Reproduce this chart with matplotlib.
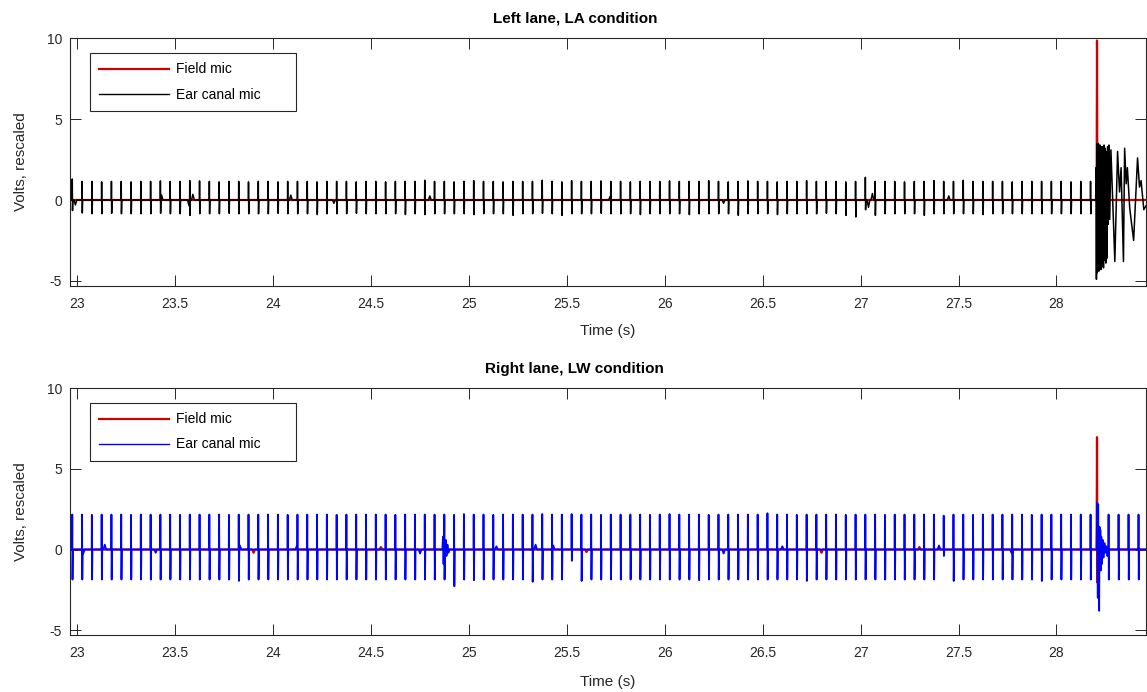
import matplotlib
matplotlib.use("Agg")
import matplotlib.pyplot as plt
import numpy as np

plt.rcParams['font.family'] = ['Liberation Sans', 'DejaVu Sans']
plt.rcParams['axes.unicode_minus'] = False

### data ###
# click times (s), shared by both recordings up to the strike
click_times = [
    22.974, 23.024, 23.074, 23.124, 23.174, 23.224, 23.274, 23.324, 23.374, 23.424,
    23.474, 23.524, 23.574, 23.624, 23.674, 23.724, 23.774, 23.824, 23.874, 23.924,
    23.974, 24.024, 24.074, 24.124, 24.174, 24.224, 24.274, 24.324, 24.374, 24.424,
    24.474, 24.524, 24.574, 24.624, 24.674, 24.724, 24.774, 24.824, 24.874, 24.924,
    24.974, 25.024, 25.074, 25.124, 25.174, 25.224, 25.274, 25.324, 25.374, 25.424,
    25.474, 25.524, 25.574, 25.624, 25.674, 25.724, 25.774, 25.824, 25.874, 25.924,
    25.974, 26.024, 26.074, 26.124, 26.174, 26.224, 26.274, 26.324, 26.374, 26.424,
    26.474, 26.524, 26.574, 26.624, 26.674, 26.724, 26.774, 26.824, 26.874, 26.924,
    26.974, 27.024, 27.074, 27.124, 27.174, 27.224, 27.274, 27.324, 27.374, 27.424,
    27.474, 27.524, 27.574, 27.624, 27.674, 27.724, 27.774, 27.824, 27.874, 27.924,
    27.974, 28.024, 28.074, 28.124, 28.174,
]

# top panel (LA): ear canal click peaks
top_pos = [
    1.30, 1.15, 1.15, 1.12, 1.15, 1.15, 1.12, 1.15, 1.15, 1.18,
    1.15, 1.15, 1.20, 1.18, 1.15, 1.12, 1.15, 1.15, 1.12, 1.15,
    1.15, 1.12, 1.15, 1.15, 1.15, 1.12, 1.15, 1.15, 1.15, 1.12,
    1.15, 1.15, 1.12, 1.15, 1.15, 1.15, 1.22, 1.15, 1.15, 1.12,
    1.15, 1.20, 1.15, 1.15, 1.12, 1.15, 1.15, 1.15, 1.22, 1.15,
    1.12, 1.20, 1.15, 1.15, 1.18, 1.15, 1.15, 1.12, 1.15, 1.15,
    1.15, 1.18, 1.15, 1.15, 1.15, 1.20, 1.15, 1.12, 1.15, 1.18,
    1.15, 1.15, 1.12, 1.15, 1.15, 1.20, 1.15, 1.15, 1.15, 1.12,
    1.15, 1.40, 1.15, 1.15, 1.15, 1.12, 1.15, 1.15, 1.20, 1.15,
    1.15, 1.22, 1.15, 1.15, 1.15, 1.15, 1.12, 1.15, 1.15, 1.15,
    1.15, 1.15, 1.12, 1.15, 1.15,
]
top_neg = [
    -0.65, -0.80, -0.85, -0.85, -0.82, -0.85, -0.85, -0.85, -0.85, -0.82,
    -0.85, -0.85, -0.95, -0.85, -0.85, -0.85, -0.82, -0.85, -0.85, -0.85,
    -0.85, -0.82, -0.85, -0.85, -0.85, -0.90, -0.85, -0.85, -0.85, -0.82,
    -0.85, -0.85, -0.85, -0.85, -0.90, -0.85, -0.90, -0.85, -0.85, -0.85,
    -0.85, -0.90, -0.85, -0.85, -0.85, -0.95, -0.85, -0.85, -0.82, -0.85,
    -0.95, -0.85, -0.85, -0.85, -0.82, -0.85, -0.85, -0.85, -0.90, -0.85,
    -0.85, -0.85, -0.85, -0.90, -0.85, -0.85, -0.85, -0.85, -0.95, -0.85,
    -0.85, -0.85, -0.90, -0.85, -0.85, -0.85, -0.85, -0.82, -0.85, -0.95,
    -1.05, -0.60, -0.95, -0.85, -0.85, -0.85, -0.85, -0.95, -0.85, -0.85,
    -0.85, -0.85, -0.85, -0.90, -0.85, -0.85, -0.85, -0.85, -0.85, -0.85,
    -0.85, -0.85, -0.85, -0.85, -0.85,
]
# small baseline wiggles of the ear canal trace (time, value)
top_ear_bump_t = [22.99, 23.43, 23.57, 23.59, 24.09, 24.31, 24.80, 25.72, 26.30, 27.04, 27.06, 27.45]
top_ear_bump_v = [-0.30, 0.30, -0.35, 0.35, 0.30, -0.20, 0.25, 0.20, -0.20, -0.45, 0.40, 0.25]
# ear canal ringing after the strike (time, value)
top_ring_t = [28.200, 28.202, 28.204, 28.206, 28.208, 28.210, 28.212, 28.214, 28.216, 28.218,
              28.220, 28.222, 28.224, 28.226, 28.228, 28.230, 28.232, 28.234, 28.236, 28.238,
              28.240, 28.243, 28.246, 28.249, 28.252, 28.255, 28.258, 28.261, 28.264, 28.268,
              28.272, 28.278, 28.298, 28.312, 28.322, 28.330, 28.342, 28.348, 28.356, 28.362,
              28.374, 28.394, 28.414, 28.424, 28.432, 28.446, 28.460]
top_ring_v = [0.0, 2.0, -4.9, 3.5, -4.5, 3.4, -4.3, 3.5, -4.4, 3.3,
              -4.2, 3.4, -4.0, 3.3, -4.3, 3.2, -4.1, 3.3, -3.9, 3.1,
              -4.2, 3.4, -3.7, 3.2, -3.9, 3.0, -3.6, 3.3, -1.5, 3.4,
              -1.2, 3.1, -3.8, 3.0, 0.5, 2.0, -3.8, 3.2, 1.0, 2.0,
              -0.5, -2.5, 2.6, 0.8, 1.2, -0.6, -0.3]
# field mic strike (time, value)
top_field_t = [28.205, 28.207, 28.209, 28.212, 28.216]
top_field_v = [0.0, 9.86, -0.8, 0.4, 0.0]

# bottom panel (LW): ear canal click peaks
bot_pos = [
    2.17, 2.17, 2.15, 2.17, 2.17, 2.17, 2.15, 2.17, 2.17, 2.17,
    2.17, 2.15, 2.17, 2.17, 2.17, 2.17, 2.15, 2.17, 2.17, 2.17,
    2.17, 2.17, 2.15, 2.17, 2.17, 2.17, 2.17, 2.15, 2.17, 2.17,
    2.17, 2.17, 2.17, 2.15, 2.17, 2.17, 2.17, 2.17, 2.17, 2.15,
    2.20, 2.17, 2.17, 2.15, 2.17, 2.17, 2.17, 2.17, 2.20, 2.17,
    2.17, 2.20, 2.17, 2.17, 2.15, 2.17, 2.17, 2.17, 2.17, 2.15,
    2.17, 2.20, 2.17, 2.17, 2.17, 2.15, 2.17, 2.17, 2.17, 2.17,
    2.17, 2.25, 2.17, 2.17, 2.15, 2.17, 2.17, 2.17, 2.17, 2.15,
    2.17, 2.17, 2.17, 2.15, 2.17, 2.17, 2.17, 2.17, 2.17, 2.10,
    2.17, 2.17, 2.15, 2.17, 2.17, 2.17, 2.17, 2.17, 2.15, 2.17,
    2.17, 2.17, 2.17, 2.17, 2.17,
]
bot_neg = [
    -1.86, -1.86, -1.86, -1.86, -1.86, -1.86, -1.86, -1.86, -1.86, -1.86,
    -1.86, -1.86, -1.86, -1.86, -1.86, -1.86, -1.86, -1.95, -1.86, -1.86,
    -1.86, -1.86, -1.86, -1.86, -1.86, -1.86, -1.86, -1.86, -1.86, -1.86,
    -1.86, -1.86, -1.86, -1.86, -1.86, -1.86, -1.86, -1.86, -1.86, -2.28,
    -1.86, -1.90, -1.86, -1.86, -1.86, -1.86, -1.86, -2.00, -1.86, -1.86,
    -1.86, -0.70, -1.95, -1.86, -1.86, -1.86, -1.86, -1.86, -1.86, -1.86,
    -1.86, -1.86, -1.86, -1.86, -1.90, -1.86, -1.86, -1.86, -1.86, -1.86,
    -1.86, -1.86, -1.86, -1.86, -1.86, -1.95, -1.86, -1.86, -1.86, -1.86,
    -1.86, -1.86, -1.86, -1.86, -1.86, -1.86, -1.86, -1.86, -1.86, -0.40,
    -1.95, -1.86, -1.86, -1.86, -1.86, -1.86, -1.86, -1.86, -1.86, -1.95,
    -1.86, -1.86, -1.86, -1.86, -1.86,
]
# clicks still visible after the strike
bot_late_t = [28.266, 28.317, 28.368, 28.419]
bot_late_pos = [2.17, 2.17, 2.17, 2.17]
bot_late_neg = [-1.86, -1.86, -1.86, -1.86]
bot_ear_bump_t = [23.03, 23.14, 23.40, 23.83, 24.12, 24.75, 25.14, 25.34, 25.43, 26.30, 26.60, 27.40, 27.77]
bot_ear_bump_v = [-0.25, 0.30, -0.20, 0.25, 0.20, -0.25, 0.20, 0.30, 0.25, -0.25, 0.20, 0.25, -0.20]
bot_burst_t = [24.864, 24.867, 24.870, 24.873, 24.877, 24.881, 24.885, 24.890, 24.895, 24.900]
bot_burst_v = [0.0, 0.8, -0.9, 0.7, -0.6, 0.6, -0.4, 0.3, -0.2, 0.0]
bot_ring_t = [28.205, 28.208, 28.211, 28.213, 28.215, 28.218, 28.220, 28.222, 28.224, 28.226,
              28.229, 28.232, 28.236, 28.240, 28.245, 28.250, 28.255, 28.260]
bot_ring_v = [0.0, 2.9, -3.0, 2.8, -1.5, -3.8, 1.4, -1.1, 1.2, -1.3,
              0.8, -0.9, 0.6, -0.5, 0.4, -0.2, 0.2, -0.4]
bot_field_t = [28.205, 28.207, 28.209, 28.212, 28.216]
bot_field_v = [0.0, 6.97, -2.05, 0.3, 0.0]
bot_field_bump_t = [23.90, 24.55, 25.60, 26.80, 27.30]
bot_field_bump_v = [-0.20, 0.15, -0.15, -0.20, 0.15]

xticks = [23, 23.5, 24, 24.5, 25, 25.5, 26, 26.5, 27, 27.5, 28]
xtick_labels = ['23', '23.5', '24', '24.5', '25', '25.5', '26', '26.5', '27', '27.5', '28']
yticks = [-5, 0, 5, 10]

T0, T1 = 22.964, 28.457
gray = '#262626'


def build_trace(c_t, c_p, c_n, b_t, b_v, x_t, x_v):
    # join clicks, small bumps and free points into one polyline
    pts = [(T0 - 0.1, 0.0), (T1 + 0.1, 0.0)]
    for t, p, n in zip(c_t, c_p, c_n):
        pts += [(t - 0.0008, 0.0), (t, p), (t + 0.0012, n), (t + 0.003, 0.0)]
    for t, v in zip(b_t, b_v):
        pts += [(t - 0.007, 0.0), (t, v), (t + 0.007, 0.0)]
    pts += list(zip(x_t, x_v))
    pts.sort(key=lambda q: q[0])
    return [q[0] for q in pts], [q[1] for q in pts]


fig = plt.figure(figsize=(11.47, 6.92), dpi=100)
ax1 = fig.add_axes([0.0613, 0.5871, 0.9378, 0.3576])
ax2 = fig.add_axes([0.0613, 0.0824, 0.9378, 0.3565])

# top: Left lane, LA
ft, fv = build_trace([], [], [], [], [], top_field_t, top_field_v)
et, ev = build_trace(click_times, top_pos, top_neg, top_ear_bump_t, top_ear_bump_v, top_ring_t, top_ring_v)
ax1.plot(ft, fv, color='#cc0000', lw=1.6, label='Field mic')
ax1.plot(et, ev, color='black', lw=1.1, label='Ear canal mic')

# bottom: Right lane, LW
ft, fv = build_trace([], [], [], bot_field_bump_t, bot_field_bump_v, bot_field_t, bot_field_v)
et, ev = build_trace(click_times + bot_late_t, bot_pos + bot_late_pos, bot_neg + bot_late_neg,
                     bot_ear_bump_t, bot_ear_bump_v, bot_burst_t + bot_ring_t, bot_burst_v + bot_ring_v)
ax2.plot(ft, fv, color='#cc0000', lw=1.6, label='Field mic')
ax2.plot(et, ev, color='#0000ff', lw=1.3, label='Ear canal mic')

titles = ['Left lane, LA condition', 'Right lane, LW condition']
xlab_y = [-0.155, -0.162]
for ax, title, ly in zip([ax1, ax2], titles, xlab_y):
    ax.set_xlim(T0, T1)
    ax.set_ylim(-5.3, 10)
    ax.set_xticks(xticks)
    ax.set_xticklabels(xtick_labels)
    ax.set_yticks(yticks)
    ax.tick_params(direction='in', top=True, right=True, length=8, width=0.7,
                   colors=gray, labelsize=10)
    ax.tick_params(axis='x', pad=8)
    ax.tick_params(axis='y', pad=6)
    for s in ax.spines.values():
        s.set_color(gray)
        s.set_linewidth(0.8)
    ax.set_title(title, fontsize=11, fontweight='bold', pad=11, x=0.469)
    ax.set_xlabel('Time (s)', fontsize=11, color=gray)
    ax.set_ylabel('Volts, rescaled', fontsize=11, color=gray)
    ax.xaxis.set_label_coords(0.5, ly)
    ax.yaxis.set_label_coords(-0.039, 0.5)
    leg = ax.legend(loc='upper left', bbox_to_anchor=(0.018, 0.5, 0.1915, 0.4418), mode='expand',
                    borderaxespad=0, fontsize=10, handlelength=5.0, handletextpad=0.5,
                    labelspacing=0.8, borderpad=0.7, fancybox=False, framealpha=1)
    leg.get_frame().set_edgecolor(gray)
    leg.get_frame().set_linewidth(0.8)
    leg.get_lines()[1].set_linewidth(1.0)

plt.savefig('out.png', dpi=100)
